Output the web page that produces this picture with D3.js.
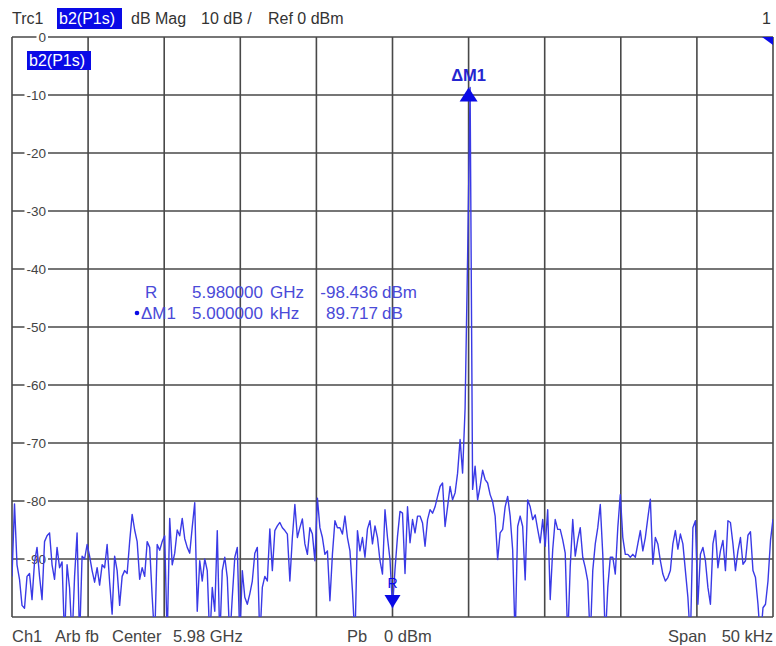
<!DOCTYPE html>
<html>
<head>
<meta charset="utf-8">
<script src="https://cdn.jsdelivr.net/npm/d3@7"></script>
<style>
  body { margin: 0; background: #fff; }
  svg { font-family: "Liberation Sans", Arial, sans-serif; }
  text { white-space: pre; }
</style>
</head>
<body>
<svg id="chart" width="776" height="646"></svg>
<script>
(function () {
  // span settings
  const centerGHz = 5.98;
  const spanKHz = 50;
  const xGridKHz = [-25, -20, -15, -10, -5, 0, 5, 10, 15, 20, 25];
  const yTickValues = [0, -10, -20, -30, -40, -50, -60, -70, -80, -90, -100];
  const yTickLabels = ["0", "-10", "-20", "-30", "-40", "-50", "-60", "-70", "-80", "-90"];

  // trace b2(P1s), dBm, evenly spaced over the span
  const traceDb = [
    -93, -80.5, -91, -93.5, -98, -98.5, -93, -92.5, -97, -90.5,
    -88, -93, -97, -87, -86, -85.5, -91, -93.5, -88, -91.5,
    -90.5, -104, -91, -95, -104, -93, -85.5, -104, -89.5, -90,
    -87.5, -89.5, -92, -94, -91.5, -94.5, -91, -91.5, -87.5, -94,
    -99.5, -89.5, -92, -98, -93, -92, -92.5, -87, -82.3, -85,
    -87, -93.5, -91.5, -93, -87, -88, -96.5, -104, -87.5, -88.5,
    -87, -86, -104, -83, -91, -89, -85, -86, -83, -86.5,
    -88, -89, -84.5, -80.3, -99,
    -90.3, -93.8, -90, -92, -104, -94.9, -99, -85.1, -104, -92,
    -89.7, -93.2, -104, -96.6, -89.7, -88, -104, -92, -96.6, -97.8,
    -96, -93.8, -89, -88, -104, -94.9, -93, -93.8, -84.8, -92,
    -85.1, -84.3, -83.7, -84.6, -85.1, -85.7, -93.8, -86.3, -80.6, -86.3,
    -84.6, -83.1, -87.4, -89.2, -84.6, -85.7, -90.3, -79.5, -84.6, -86.3,
    -89.2, -88.6, -97.2, -89.2, -83.4, -84.6, -84.6, -85.7, -82.6, -86.3,
    -88.6, -95.5, -104, -85.1, -88.6, -86.3, -89.7, -84.8, -83.4, -87.4,
    -84.3, -86.3, -90.3, -92.6, -81.5, -86.3,
    -90.1, -98.4, -91.8, -86.1, -81.8, -82.1, -92.5, -81, -87.2, -83.2,
    -85.5, -82.6, -82.6, -83.8, -87.8, -83.2, -81.5, -82.1, -81, -79.2,
    -77.5, -76.9, -84.4, -81, -77.5, -79.8, -78.6, -75.2, -69.4, -75.2,
    -64, -38, -8.7, -78, -74, -79.8, -77.5, -74.7, -76.3, -76.9,
    -78.9, -80.1, -82.6, -90.1, -85.5, -84.9, -81, -79.2, -82.6, -88.4,
    -104, -84.4, -82.6, -84.4, -93.6, -79.8, -81, -83.2, -82.4, -84.9,
    -87.2, -83.2, -87.8, -81.5, -97, -88.4, -83.2, -84.9, -84.9, -86.7,
    -89, -104, -91.3, -83.2, -89.5, -86.7,
    -84.6, -89.7, -91.5, -93.8, -104, -92, -87.4, -84.6, -80.6, -89.2,
    -104, -94.9, -89.7, -89.7, -92.6, -84.6, -78.9, -86.3, -89.2, -89.2,
    -89.7, -89.2, -89.7, -87.4, -85.1, -88.6, -86.3, -82.9, -79.7, -90.9,
    -86.3, -87.4, -90.3, -92.6, -93.8, -93.2, -92, -87.4, -85.1, -88.3,
    -85.7, -87.4, -92, -96.6, -104, -84.6, -83.4, -97.8, -89.2, -88,
    -90.3, -94.9, -97.8, -87.4, -85.1, -91.5, -88.6, -86.8, -92, -83.4,
    -83.7, -87.4, -92, -88.6, -86.3, -90.9, -90.3, -85.9, -85.3, -92,
    -93.2, -97.8, -104, -98.4, -97.8, -93.8, -86.8, -83.1
  ];

  // markers: reference R and delta marker M1
  const markerNames = ["R", "\u0394M1"];
  const markerOffsetsKHz = [0, 5];
  const markerDbm = [-98.436, -8.719];
  const readoutStim = ["5.980000", "5.000000"];
  const readoutStimUnit = ["GHz", "kHz"];
  const readoutResp = ["-98.436", "89.717"];
  const readoutRespUnit = ["dBm", "dB"];

  const W = 776, H = 646;
  const plot = { left: 12, right: 773, top: 37, bottom: 617 };
  const blue = "#0a0ae6";
  const traceColor = "#3a3ae6";
  const readColor = "#4a4ad8";

  const x = d3.scaleLinear().domain([-spanKHz / 2, spanKHz / 2]).range([plot.left, plot.right]);
  const y = d3.scaleLinear().domain([-100, 0]).range([plot.bottom, plot.top]);

  const svg = d3.select("#chart");
  svg.append("rect").attr("width", W).attr("height", H).attr("fill", "#fff");

  svg.append("defs").append("clipPath").attr("id", "clip")
    .append("rect")
    .attr("x", plot.left).attr("y", plot.top)
    .attr("width", plot.right - plot.left).attr("height", plot.bottom - plot.top);

  // the instrument spaces its words wider than our font, so place them one by one
  function word(g, t, x0, yb) {
    return g.append("text").attr("x", x0).attr("y", yb).text(t);
  }

  // grid
  const grid = svg.append("g").attr("stroke", "#484848").attr("stroke-width", 1.6);
  grid.selectAll("line.v").data(xGridKHz).enter().append("line")
    .attr("class", "v")
    .attr("x1", d => x(d)).attr("x2", d => x(d))
    .attr("y1", plot.top).attr("y2", plot.bottom);
  grid.selectAll("line.h").data(yTickValues).enter().append("line")
    .attr("class", "h")
    .attr("x1", plot.left).attr("x2", plot.right)
    .attr("y1", d => y(d)).attr("y2", d => y(d));

  // y labels sit on the left frame, with the grid line cut behind them
  const ylab = svg.append("g");
  yTickLabels.forEach((t, i) => {
    const yy = y(yTickValues[i]);
    const txt = ylab.append("text")
      .attr("x", 46).attr("y", yy + 5)
      .attr("text-anchor", "end")
      .attr("font-size", 13.5).attr("fill", "#444")
      .text(t);
    const bb = txt.node().getBBox();
    ylab.insert("rect", "text")
      .attr("x", bb.x - 2).attr("y", yy - 2)
      .attr("width", bb.width + 4).attr("height", 4)
      .attr("fill", "#fff");
  });

  // trace
  const N = traceDb.length;
  const line = d3.line()
    .x((d, i) => x(-spanKHz / 2 + i * spanKHz / (N - 1)))
    .y(d => y(d));
  svg.append("g").attr("clip-path", "url(#clip)")
    .append("path")
    .datum(traceDb)
    .attr("fill", "none")
    .attr("stroke", traceColor)
    .attr("stroke-width", 1.4)
    .attr("stroke-linejoin", "round")
    .attr("d", line);

  // header
  const head = svg.append("g").attr("font-size", 16).attr("fill", "#333");
  word(head, "Trc1", 12, 24);
  head.append("rect").attr("x", 57).attr("y", 8).attr("width", 65).attr("height", 21).attr("fill", blue);
  word(head, "b2(P1s)", 59, 24).attr("fill", "#fff");
  word(head, "dB Mag", 131, 24);
  word(head, "10 dB /", 201, 24);
  word(head, "Ref 0 dBm", 268, 24);
  head.append("text").attr("x", 771).attr("y", 24).attr("text-anchor", "end").text("1");

  // trace label inside plot
  svg.append("rect").attr("x", 27).attr("y", 51).attr("width", 64).attr("height", 19).attr("fill", blue);
  word(svg, "b2(P1s)", 29, 66).attr("font-size", 16).attr("fill", "#fff");

  // reference level arrow in top-right corner
  svg.append("path")
    .attr("d", d3.line()([[x(25) - 11, y(0)], [x(25), y(0)], [x(25), y(0) + 8]]))
    .attr("fill", blue);

  // markers
  const rx = x(markerOffsetsKHz[0]), ry = y(markerDbm[0]);
  svg.append("path")
    .attr("d", d3.line()([[rx - 8, ry - 13], [rx + 8, ry - 13], [rx, ry]]))
    .attr("fill", blue);
  svg.append("text").attr("x", rx).attr("y", ry - 20).attr("text-anchor", "middle")
    .attr("font-size", 14).attr("fill", blue).text(markerNames[0]);

  const m1x = x(markerOffsetsKHz[1]), m1y = y(markerDbm[1]);
  svg.append("path")
    .attr("d", d3.line()([[m1x - 9, m1y + 14], [m1x + 9, m1y + 14], [m1x, m1y]]))
    .attr("fill", blue);
  svg.append("text").attr("x", m1x).attr("y", m1y - 7).attr("text-anchor", "middle")
    .attr("font-size", 16.5).attr("font-weight", "bold").attr("fill", "#2525d0").text(markerNames[1]);

  // marker readout table
  const ro = svg.append("g").attr("font-size", 17).attr("fill", readColor);
  const rowY = [298, 319];
  word(ro, markerNames[0], 145, rowY[0]);
  ro.append("circle").attr("cx", 137).attr("cy", rowY[1] - 6).attr("r", 2.3).attr("fill", blue);
  word(ro, markerNames[1], 141, rowY[1]);
  [0, 1].forEach(i => {
    word(ro, readoutStim[i], 192, rowY[i]);
    word(ro, readoutStimUnit[i], 270, rowY[i]);
    ro.append("text").attr("x", 378).attr("y", rowY[i]).attr("text-anchor", "end").text(readoutResp[i]);
    word(ro, readoutRespUnit[i], 382, rowY[i]);
  });

  // footer
  const foot = svg.append("g").attr("font-size", 16.5).attr("fill", "#444");
  const fy = 642;
  word(foot, "Ch1", 12, fy);
  word(foot, "Arb fb", 55, fy);
  word(foot, "Center", 112, fy);
  word(foot, centerGHz + " GHz", 173, fy);
  word(foot, "Pb", 347, fy);
  word(foot, "0 dBm", 384, fy);
  word(foot, "Span", 668, fy);
  foot.append("text").attr("x", 773).attr("y", fy).attr("text-anchor", "end").text(spanKHz + " kHz");
})();
</script>
</body>
</html>
